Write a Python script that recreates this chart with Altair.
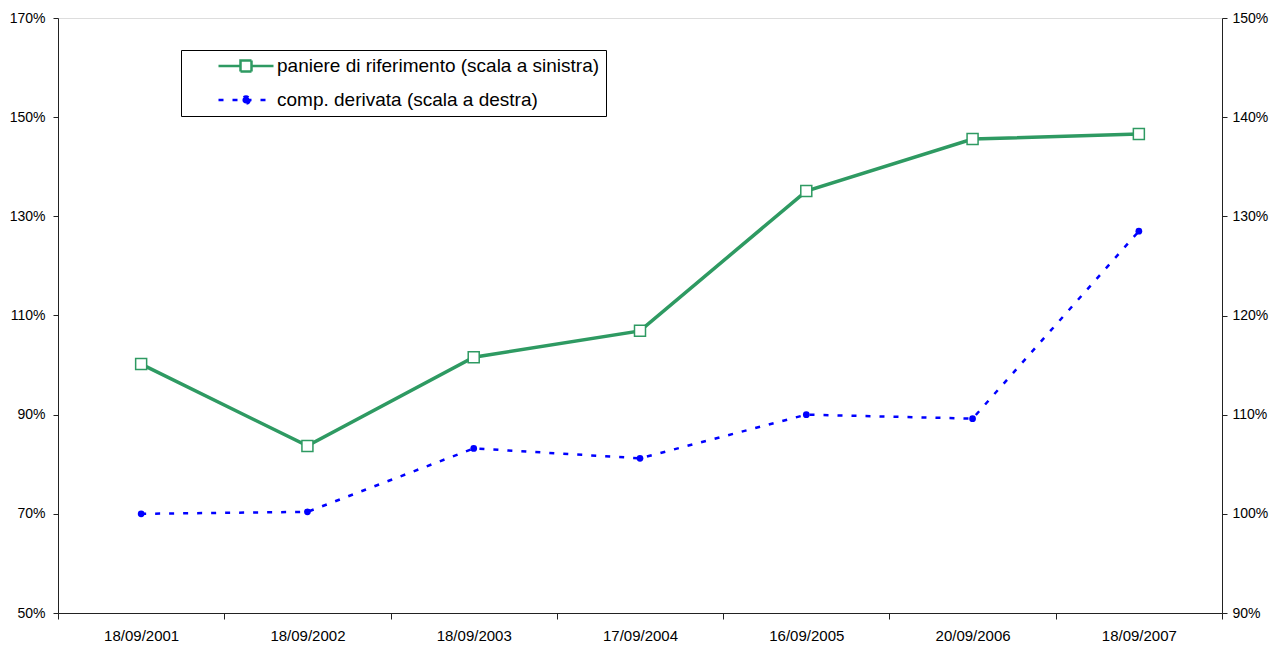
import altair as alt
import pandas as pd

dates = ["18/09/2001", "18/09/2002", "18/09/2003", "17/09/2004",
         "16/09/2005", "20/09/2006", "18/09/2007"]
paniere = [1.002, 0.837, 1.016, 1.069, 1.351, 1.456, 1.466]
comp = [1.000, 1.002, 1.066, 1.056, 1.100, 1.096, 1.285]

s1 = "paniere di riferimento (scala a sinistra)"
s2 = "comp. derivata (scala a destra)"
left_ticks = [0.5, 0.7, 0.9, 1.1, 1.3, 1.5, 1.7]
right_ticks = [0.9, 1.0, 1.1, 1.2, 1.3, 1.4, 1.5]

GREEN = "#2e9a62"
BLUE = "#0000ff"
FONT = "Liberation Sans"

df1 = pd.DataFrame({"date": dates, "value": paniere, "series": s1})
df2 = pd.DataFrame({"date": dates, "value": comp, "series": s2})

xenc = alt.X("date:O", sort=dates, bandPosition=0.5,
             scale=alt.Scale(type="band", paddingInner=0, paddingOuter=0),
             axis=alt.Axis(title=None, labelAngle=0, tickBand="extent",
                           labelFontSize=15, labelFont=FONT, labelColor="#000",
                           domainColor="#222", tickColor="#222", tickSize=6,
                           labelPadding=9))

green_path = "M-1,0H-0.2M0.2,0H1M-0.2,-0.2H0.2V0.2H-0.2Z"
blue_path = "M-1,0H1M0.13,0A0.13,0.13,0,1,1,-0.13,0A0.13,0.13,0,1,1,0.13,0Z"

legend = alt.Legend(
    title=None, orient="none", legendX=123, legendY=32,
    strokeColor="#000", fillColor="#fff", padding=6,
    clipHeight=20, rowPadding=14, symbolSize=3025, symbolOffset=30,
    symbolStrokeWidth=2.5, symbolOpacity=1, labelLimit=0,
    labelOffset=2, labelFontSize=19, labelFont=FONT, labelColor="#000")

dom = [s1, s2]
leg_layer = alt.Chart(df1).transform_filter("false").mark_point(
    opacity=1, strokeWidth=2.5).encode(
    x=xenc,
    y=alt.Y("value:Q", scale=alt.Scale(domain=[0.5, 1.7], nice=False, zero=False)),
    stroke=alt.Stroke("series:N", scale=alt.Scale(domain=dom, range=[GREEN, BLUE]), legend=legend),
    fill=alt.Fill("series:N", scale=alt.Scale(domain=dom, range=["#ffffff", BLUE]), legend=legend),
    shape=alt.Shape("series:N", scale=alt.Scale(domain=dom, range=[green_path, blue_path]), legend=legend),
    strokeDash=alt.StrokeDash("series:N", scale=alt.Scale(domain=dom, range=[[1, 0], [5, 9]]), legend=legend),
)

yleft = alt.Y("value:Q", scale=alt.Scale(domain=[0.5, 1.7], nice=False, zero=False),
              axis=alt.Axis(values=left_ticks, format=".0%", title=None, grid=False,
                            labelFontSize=14, labelFont=FONT, labelColor="#000",
                            domainColor="#222", tickColor="#222", tickSize=5,
                            labelPadding=8, orient="left"))
yright = alt.Y("value:Q", scale=alt.Scale(domain=[0.9, 1.5], nice=False, zero=False),
               axis=alt.Axis(values=right_ticks, format=".0%", title=None, grid=False,
                             labelFontSize=14, labelFont=FONT, labelColor="#000",
                             domainColor="#222", tickColor="#222", tickSize=5,
                             labelPadding=5, orient="right"))

g_line = alt.Chart(df1).mark_line(strokeWidth=3.5, color=GREEN).encode(x=xenc, y=yleft)
g_pts = alt.Chart(df1).mark_point(shape="square", size=121, filled=True, fill="#ffffff",
                                  stroke=GREEN, strokeWidth=1.5, opacity=1).encode(x=xenc, y=yleft)
left = alt.layer(g_line, g_pts, leg_layer)

b_line = alt.Chart(df2).mark_line(strokeWidth=2.5, strokeDash=[5, 9], color=BLUE).encode(
    x=xenc, y=yright)
b_pts = alt.Chart(df2).mark_point(shape="circle", size=45, filled=True, fill=BLUE,
                                  opacity=1).encode(x=xenc, y=yright)
right = alt.layer(b_line, b_pts)

chart = alt.layer(left, right).resolve_scale(y="independent").properties(
    width=1164, height=595,
    autosize=alt.AutoSizeParams(type="none"),
    padding={"left": 50, "top": 10, "right": 55, "bottom": 31},
).configure_view(stroke="#a0a0a0", strokeWidth=1).configure(background="white")

chart.save("out.html", embed_options={"renderer": "svg", "actions": False})
